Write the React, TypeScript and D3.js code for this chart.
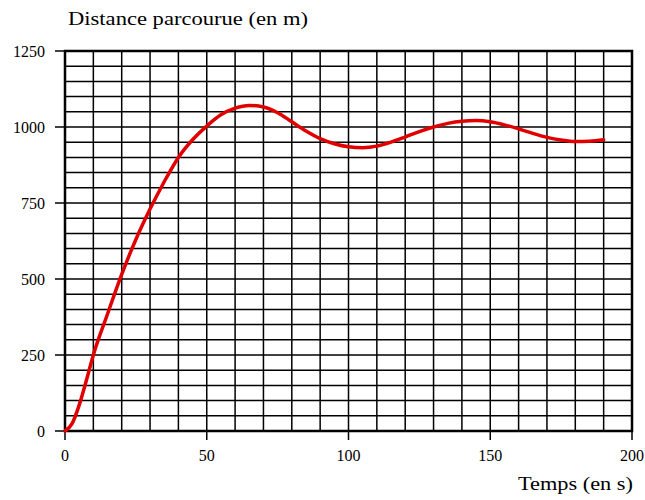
import React from "react";
import * as d3 from "d3";

const times = [0, 2.5, 5, 7.5, 10, 15, 20, 25, 30, 35, 40, 45, 50, 55, 60, 65, 70, 75, 80, 85, 90, 95, 100, 105, 110, 115, 120, 125, 130, 135, 140, 145, 150, 155, 160, 165, 170, 175, 180, 185, 190];
const distances = [0, 24, 85, 165, 250, 385, 515, 630, 730, 820, 900, 958, 1003, 1040, 1062, 1071, 1066, 1047, 1017, 987, 962, 945, 935, 932, 937, 950, 967, 985, 1000, 1012, 1019, 1021, 1017, 1007, 994, 979, 966, 957, 952, 953, 958];
const xTicks = [0, 50, 100, 150, 200];
const yTicks = [0, 250, 500, 750, 1000, 1250];
const xGrid = d3.range(0, 201, 10);
const yGrid = d3.range(0, 1251, 50);

export default function App() {
  const W = 645, H = 500;
  const left = 65, right = 632, top = 51, bottom = 431;
  const x = d3.scaleLinear().domain([0, 200]).range([left, right]);
  const y = d3.scaleLinear().domain([0, 1250]).range([bottom, top]);
  const pts: [number, number][] = times.map((t, i) => [t, distances[i]]);
  const line = d3.line<[number, number]>().x(d => x(d[0])).y(d => y(d[1])).curve(d3.curveMonotoneX);
  const font = "'Liberation Serif', 'Times New Roman', Times, serif";
  const tl = (v: number) => String(v).length * 8;
  return (
    <svg width={W} height={H} style={{ position: "absolute", left: 0, top: 0, background: "#fff" }}>
      <rect x={0} y={0} width={W} height={H} fill="#fff" />
      {xGrid.map(v => (
        <line key={"vx" + v} x1={x(v)} x2={x(v)} y1={top} y2={bottom} stroke="#000" strokeWidth={1.5} />
      ))}
      {yGrid.map(v => (
        <line key={"hy" + v} x1={left} x2={right} y1={y(v)} y2={y(v)} stroke="#000" strokeWidth={1.5} />
      ))}
      <rect x={left} y={top} width={right - left} height={bottom - top} fill="none" stroke="#000" strokeWidth={2.5} />
      {yTicks.map(v => (
        <g key={"yt" + v}>
          <line x1={left - 10} x2={left} y1={y(v)} y2={y(v)} stroke="#000" strokeWidth={1.5} />
          <text x={left - 20 - tl(v)} y={y(v) + 5.5} fontFamily={font} fontSize={16} fill="#000" textLength={tl(v)} lengthAdjust="spacingAndGlyphs">{v}</text>
        </g>
      ))}
      {xTicks.map(v => (
        <g key={"xt" + v}>
          <line x1={x(v)} x2={x(v)} y1={bottom} y2={bottom + 9} stroke="#000" strokeWidth={1.5} />
          <text x={x(v) - tl(v) / 2} y={461} fontFamily={font} fontSize={16} fill="#000" textLength={tl(v)} lengthAdjust="spacingAndGlyphs">{v}</text>
        </g>
      ))}
      <path d={line(pts) || ""} fill="none" stroke="#e00000" strokeWidth={3.5} strokeLinejoin="round" strokeLinecap="round" />
      <text x={68} y={25} fontFamily={font} fontSize={19} fill="#000" textLength={240} lengthAdjust="spacingAndGlyphs">Distance parcourue (en m)</text>
      <text x={518} y={490} fontFamily={font} fontSize={19} fill="#000" textLength={115} lengthAdjust="spacingAndGlyphs">Temps (en s)</text>
    </svg>
  );
}
